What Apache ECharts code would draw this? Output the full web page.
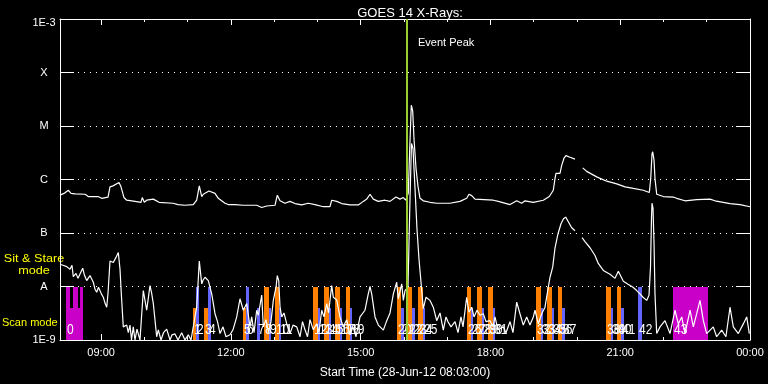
<!DOCTYPE html>
<html><head><meta charset="utf-8">
<script src="https://cdn.jsdelivr.net/npm/echarts@6/dist/echarts.min.js"></script>
<style>html,body{margin:0;padding:0;background:#000}#c{width:768px;height:384px}</style>
</head><body><div id="c"></div>
<script>
// ---- data (time in hours of 28-Jun-2012, flux in W/m^2) ----
const longTime = [8.050,8.142,8.242,8.304,8.397,8.628,8.704,8.928,9.014,9.160,
9.206,9.275,9.321,9.414,9.460,9.529,9.592,9.784,9.922,9.952,
9.999,10.054,10.091,10.207,10.339,10.662,10.778,10.939,11.131,11.210,
11.270,11.326,11.363,11.494,11.633,11.709,11.864,11.940,12.095,12.287,
12.597,12.713,12.828,13.020,13.073,13.136,13.251,13.367,13.482,13.637,
13.790,13.945,14.137,14.291,14.331,14.446,14.562,14.754,14.946,15.061,
15.140,15.216,15.292,15.408,15.563,15.678,15.817,15.909,15.986,16.041,
16.101,16.134,16.171,16.203,16.233,16.280,16.326,16.372,16.448,16.603,
16.758,17.065,17.296,17.451,17.504,17.567,17.643,18.066,18.182,18.452,
18.607,18.723,18.799,18.991,19.222,19.361,19.453,19.492,19.515,19.608,
19.647,19.700,19.746,19.839,19.955,20.036,20.133,20.225,20.456,20.688,
20.919,20.956,21.111,21.303,21.534,21.673,21.705,21.735,21.751,21.781,
21.804,21.843,21.996,22.227,22.305,22.497,22.768,23.075,23.191,23.538,
23.769,23.808,24.000];
const longFlux = [5.1e-7,5.5e-7,6.3e-7,5.5e-7,5.4e-7,5.3e-7,4.8e-7,4.8e-7,4.45e-7,4.7e-7,
7.3e-7,7.6e-7,7.0e-7,8.8e-7,7.3e-7,4.6e-7,4.1e-7,3.9e-7,3.75e-7,4.6e-7,
3.75e-7,4.1e-7,4.3e-7,4.3e-7,3.75e-7,3.6e-7,3.4e-7,3.3e-7,3.4e-7,4.1e-7,
7.6e-7,4.8e-7,5.3e-7,6.1e-7,5.5e-7,4.45e-7,3.6e-7,3.4e-7,3.4e-7,3.3e-7,
3.3e-7,3.0e-7,3.2e-7,3.3e-7,5.1e-7,4.0e-7,3.6e-7,3.9e-7,3.55e-7,3.35e-7,
3.6e-7,3.4e-7,3.1e-7,3.1e-7,4.1e-7,3.9e-7,3.55e-7,3.35e-7,3.35e-7,3.9e-7,
4.3e-7,5.3e-7,4.3e-7,3.9e-7,4.1e-7,3.9e-7,4.7e-7,4.3e-7,4.6e-7,4.1e-7,
5.5e-7,3.75e-6,2.45e-5,1.9e-5,5.7e-6,1.6e-6,7.4e-7,4.45e-7,4.0e-7,3.75e-7,
3.6e-7,3.6e-7,3.9e-7,4.45e-7,5.3e-7,5.0e-7,4.3e-7,4.1e-7,3.9e-7,3.4e-7,
4.0e-7,3.6e-7,4.0e-7,3.75e-7,4.1e-7,4.8e-7,6.3e-7,1.04e-6,1.3e-6,1.3e-6,
1.84e-6,2.5e-6,2.8e-6,2.6e-6,2.4e-6,null,1.65e-6,1.42e-6,1.12e-6,9.3e-7,
8.3e-7,8.8e-7,7.3e-7,6.8e-7,6.3e-7,5.7e-7,1.04e-6,3.0e-6,3.3e-6,2.3e-6,
1.04e-6,5.3e-7,4.8e-7,4.7e-7,4.45e-7,4.0e-7,4.2e-7,4.3e-7,4.0e-7,3.55e-7,
3.4e-7,3.3e-7,3.1e-7];

const shortTime = [8.050,8.119,8.205,8.281,8.327,8.357,8.420,8.466,8.512,8.575,
8.616,8.667,8.743,8.820,8.859,8.898,8.940,8.975,9.009,9.051,
9.090,9.130,9.160,9.206,9.282,9.344,9.398,9.437,9.472,9.513,
9.592,9.629,9.668,9.703,9.744,9.784,9.830,9.899,9.976,10.054,
10.130,10.165,10.207,10.285,10.322,10.385,10.442,10.516,10.593,10.639,
10.708,10.778,10.863,10.939,11.016,11.078,11.131,11.210,11.270,11.326,
11.356,11.402,11.478,11.557,11.633,11.691,11.749,11.818,11.887,11.980,
12.049,12.135,12.211,12.287,12.366,12.442,12.481,12.535,12.597,12.634,
12.713,12.750,12.812,12.870,12.927,12.981,13.043,13.073,13.106,13.136,
13.175,13.228,13.291,13.367,13.436,13.522,13.598,13.656,13.714,13.772,
13.829,13.905,13.984,14.037,14.099,14.153,14.215,14.257,14.331,14.368,
14.446,14.522,14.599,14.677,14.754,14.823,14.892,14.985,15.100,15.170,
15.216,15.255,15.332,15.408,15.524,15.603,15.679,15.756,15.794,15.833,
15.870,15.949,15.986,16.025,16.094,16.141,16.175,16.210,16.256,16.303,
16.349,16.395,16.448,16.511,16.603,16.679,16.758,16.834,16.910,16.973,
17.019,17.088,17.181,17.250,17.319,17.366,17.451,17.504,17.567,17.620,
17.689,17.759,17.835,17.897,17.990,18.059,18.105,18.175,18.297,18.359,
18.452,18.521,18.607,18.683,18.759,18.838,18.914,18.991,19.030,19.106,
19.185,19.261,19.338,19.377,19.439,19.493,19.562,19.631,19.689,19.740,
19.800,19.879,19.955,20.036,20.117,20.186,20.302,20.417,20.493,20.609,
20.764,20.879,20.956,21.072,21.180,21.296,21.381,21.457,21.527,21.612,
21.666,21.700,21.723,21.735,21.758,21.781,21.804,21.843,21.920,22.035,
22.151,22.267,22.343,22.422,22.498,22.614,22.690,22.768,22.844,22.921,
22.999,23.151,23.229,23.345,23.444,23.538,23.614,23.730,23.845,23.924,
23.984];
const shortFlux = [2.6e-8,2.5e-8,2.35e-8,2.1e-8,2.5e-8,1.53e-8,1.76e-8,1.42e-8,1.38e-8,2.2e-8,
1.62e-8,1.29e-8,1.6e-8,1.2e-8,8.9e-9,7.8e-9,9.7e-9,9.7e-9,7.2e-9,6.3e-9,
4.9e-9,4.1e-9,7.5e-9,3.0e-8,2.8e-8,3.5e-8,4.3e-8,2.1e-8,6.3e-9,1.76e-9,
1.9e-9,1.37e-9,1.9e-9,1e-9,1.76e-9,1e-9,1.6e-9,1e-9,8.4e-9,3.6e-9,
1.04e-8,7.8e-9,4.8e-9,1.15e-9,1.55e-9,1e-9,1.37e-9,1.6e-9,1e-9,1.25e-9,
1.3e-9,1e-9,1.37e-9,1e-9,1.25e-9,1e-9,1.76e-9,4.1e-9,3.0e-8,1.12e-8,
1.31e-8,1.49e-8,1.29e-8,7.3e-9,3.1e-9,2.2e-9,1.32e-9,1.76e-9,1.15e-9,1.25e-9,
1.55e-9,2.7e-9,5.9e-9,3.6e-9,4.8e-9,1.76e-9,2.7e-9,1.37e-9,3.6e-9,2.9e-9,
6.9e-9,1.76e-9,2.4e-9,1.37e-9,2.2e-9,5.5e-9,9.7e-9,1.6e-8,1.29e-8,4.1e-9,
2.7e-9,3.2e-9,2.0e-9,1.32e-9,1.9e-9,1.76e-9,1.15e-9,2.2e-9,1.55e-9,1.15e-9,
2.4e-9,1.55e-9,2.0e-9,1.37e-9,3.6e-9,2.7e-9,4.8e-9,3.2e-9,1.04e-8,6.3e-9,
5.6e-9,2.7e-9,1.76e-9,2.4e-9,1.25e-9,1.76e-9,1.15e-9,2.7e-9,3.6e-9,6.9e-9,
1.0e-8,7.3e-9,2.7e-9,1.9e-9,1.53e-9,2.3e-9,3.2e-9,7.3e-9,7.8e-9,1.2e-8,
5.9e-9,1.12e-8,5.5e-9,8.4e-9,9.7e-9,4.5e-7,4.7e-6,3.8e-6,6.9e-7,1.15e-7,
3.2e-8,1.2e-8,3.85e-9,6.3e-9,5.5e-9,4.1e-9,2.3e-9,3.2e-9,1.53e-9,2.7e-9,
2.2e-9,1.76e-9,2.2e-9,1.37e-9,2.7e-9,1.76e-9,6.3e-9,3.3e-9,4.1e-9,2.7e-9,
3.6e-9,2.9e-9,3.1e-9,2.2e-9,2.3e-9,1.76e-9,2.7e-9,1.55e-9,1.76e-9,1.37e-9,
2.2e-9,1.37e-9,5.1e-9,3.1e-9,1.9e-9,2.7e-9,1.9e-9,2.7e-9,3.6e-9,2.0e-9,
3.1e-9,4.1e-9,9.7e-9,1.49e-8,2.3e-8,5.3e-8,9.7e-8,1.49e-7,1.84e-7,1.98e-7,
1.62e-7,1.25e-7,1.1e-7,null,8.2e-8,6.9e-8,5.3e-8,3.8e-8,2.7e-8,2.0e-8,
1.69e-8,1.42e-8,1.92e-8,1.25e-8,1.1e-8,9.7e-9,8.4e-9,7.3e-9,6.3e-9,5.5e-9,
6.9e-9,2.3e-8,1.9e-7,3.6e-7,2.9e-7,6.6e-8,7.2e-9,1.32e-9,1.76e-9,2.3e-9,
1.32e-9,3.6e-9,2.0e-9,2.7e-9,1.32e-9,3.6e-9,1.76e-9,3.1e-9,5.5e-9,2.3e-9,
1.32e-9,1.76e-9,1.15e-9,1.53e-9,1.15e-9,4.1e-9,1.76e-9,1.32e-9,2.0e-9,2.7e-9,
1.32e-9];

// observation bars (mode: stare = Sit & Stare, scanA / scanB = scan mode)
const barStart = [8.189,8.281,8.339,8.459,8.512,
11.131,11.194,11.379,11.460,12.287,12.350,12.597,
12.766,12.874,13.027,13.119,13.898,14.007,14.153,14.261,14.414,14.523,14.661,14.754,
15.833,15.944,16.094,16.194,16.326,16.434,17.465,17.551,17.696,17.805,17.944,18.052,
19.053,19.162,19.315,19.416,19.569,19.654,20.671,20.780,20.933,21.011,
21.404,22.213];
const barEnd = [8.281,8.339,8.459,8.512,8.582,
11.194,11.270,11.460,11.534,12.350,12.426,12.673,
12.874,12.921,13.119,13.166,14.007,14.060,14.261,14.308,14.523,14.576,14.754,14.807,
15.944,16.002,16.194,16.249,16.434,16.487,17.551,17.597,17.805,17.851,18.052,18.105,
19.162,19.222,19.416,19.469,19.654,19.717,20.780,20.826,21.011,21.087,
21.497,23.022];
const barTop = [1e-8,4e-9,1e-8,4e-9,1e-8,
4e-9,1e-8,4e-9,1e-8,4e-9,1e-8,4e-9,
1e-8,4e-9,1e-8,4e-9,1e-8,4e-9,1e-8,4e-9,1e-8,4e-9,1e-8,4e-9,
1e-8,4e-9,1e-8,4e-9,1e-8,4e-9,1e-8,4e-9,1e-8,4e-9,1e-8,4e-9,
1e-8,4e-9,1e-8,4e-9,1e-8,4e-9,1e-8,4e-9,1e-8,4e-9,
1e-8,1e-8];
const barKind = ['stare','stare','stare','stare','stare',
'scanA','scanB','scanA','scanB','scanA','scanB','scanB',
'scanA','scanB','scanA','scanB','scanA','scanB','scanA','scanB','scanA','scanB','scanA','scanB',
'scanA','scanB','scanA','scanB','scanA','scanB','scanA','scanB','scanA','scanB','scanA','scanB',
'scanA','scanB','scanA','scanB','scanA','scanB','scanA','scanB','scanA','scanB',
'scanB','stare'];

const obsLabel = ['0','1','2','3','4','5','6','7','8','9','10','11','12','13','14','15','16','17','18','19','20','21',
'22','23','24','25','26','27','28','29','30','31','32','33','34','35','36','37','38','39','40','41','42','43'];
const obsTime = [8.189,11.131,11.194,11.379,11.460,12.287,12.350,12.597,12.766,12.874,13.027,13.119,13.898,14.007,
14.153,14.261,14.414,14.523,14.661,14.754,15.833,15.944,16.094,16.194,16.326,16.434,17.465,17.551,17.696,17.805,
17.944,18.052,19.053,19.162,19.315,19.416,19.569,19.654,20.671,20.780,20.933,21.011,21.404,22.213];

const yLabels = {'-3':'1E-3','-4':'X','-5':'M','-6':'C','-7':'B','-8':'A','-9':'1E-9'};
const xMajor = [9,12,15,18,21,24];
const xMinor = [9,10,11,12,13,14,15,16,17,18,19,20,21,22,23];
const tStart = 8.05, tEnd = 24;
const eventPeak = 16.069;
const titleText = 'GOES 14 X-Rays:';
const xName = 'Start Time (28-Jun-12 08:03:00)';

// ---- styles ----
const FONT = 'Liberation Sans';
const kindColor = {stare:'#c800c8', scanA:'#ff8000', scanB:'#6464ff'};
const WHITE = '#ffffff';

const chart = echarts.init(document.getElementById('c'));
const fmtHour = v => { const h = Math.round(v) % 24; return (h < 10 ? '0' : '') + h + ':00'; };

function xAx(pos, ticks, len, labels, extra) {
  return Object.assign({
    type:'value', position:pos, min:tStart, max:tEnd,
    axisLine:{show:true, lineStyle:{color:WHITE, width:1}},
    axisTick:{show:true, inside:true, length:len, customValues:ticks, lineStyle:{color:WHITE}},
    axisLabel:labels ? {show:true, customValues:xMajor, formatter:fmtHour, color:WHITE, fontFamily:FONT, fontSize:11, margin:7}
                     : {show:false},
    splitLine:{show:false}
  }, extra || {});
}
function yAx(pos, labels) {
  return {
    type:'log', logBase:10, min:1e-9, max:1e-3, splitNumber:6, position:pos,
    axisLine:{show:true, lineStyle:{color:WHITE, width:1}},
    axisTick:{show:true, inside:true, length:14, lineStyle:{color:WHITE}},
    axisLabel:labels ? {show:true, color:WHITE, fontFamily:FONT, fontSize:11, margin:16, align:'center',
       formatter: v => { const k = Math.round(Math.log10(v)); const s = yLabels[String(k)] || '';
                         return k === -3 ? '{top|' + s + '}' : s; },
       rich:{top:{color:WHITE, fontFamily:FONT, fontSize:11, padding:[8,0,0,0]}}} : {show:false},
    splitLine: labels ? {show:true, lineStyle:{color:WHITE, width:1, type:[1,5]}} : {show:false}
  };
}

const option = {
  backgroundColor:'#000',
  animation:false,
  title:{text:titleText, left:405, top:2, textAlign:'center',
    textStyle:{color:WHITE, fontFamily:FONT, fontSize:13, fontWeight:'normal'}},
  grid:{left:60, right:18, top:19, bottom:41, containLabel:false},
  xAxis:[
    xAx('bottom', xMajor, 6, true, {name:xName, nameLocation:'middle', nameGap:27,
      nameTextStyle:{color:WHITE, fontFamily:FONT, fontSize:12}}),
    xAx('bottom', xMinor, 3, false, {axisLine:{show:false}}),
    xAx('top', xMajor, 6, false),
    xAx('top', xMinor, 3, false, {axisLine:{show:false}})
  ],
  yAxis:[ yAx('left', true), yAx('right', false) ],
  series:[
    {
      type:'custom', name:'observations', xAxisIndex:0, yAxisIndex:0, z:1,
      data: barStart.map((s,i) => [s, barEnd[i], barTop[i]]),
      encode:{x:[0,1], y:2},
      renderItem:(params, api) => {
        const a = api.coord([api.value(0), api.value(2)]);
        const b = api.coord([api.value(1), 1e-9]);
        const x0 = Math.round(a[0]), x1 = Math.round(b[0]);
        const y0 = Math.round(a[1]), y1 = Math.round(b[1]);
        return {type:'rect', shape:{x:x0, y:y0, width:Math.max(1,x1-x0), height:y1-y0},
          style:{fill:kindColor[barKind[params.dataIndex]]}};
      }
    },
    {
      type:'custom', name:'obs labels', xAxisIndex:0, yAxisIndex:0, z:2,
      data: obsTime.map(t => [t, 1e-9]),
      encode:{x:0, y:1},
      renderItem:(params, api) => {
        const p = api.coord([api.value(0), api.value(1)]);
        return {type:'text', x:Math.round(p[0])+1, y:Math.round(p[1])-10, scaleX:0.8,
          style:{text:obsLabel[params.dataIndex], fill:WHITE, fontFamily:FONT, fontSize:15,
            align:'left', verticalAlign:'middle'}};
      }
    },
    {
      type:'line', name:'0.5-4.0 A', xAxisIndex:0, yAxisIndex:0, z:3,
      data: shortTime.map((t,i) => [t, shortFlux[i] === null ? '-' : shortFlux[i]]),
      showSymbol:false, symbol:'none', connectNulls:false,
      lineStyle:{color:WHITE, width:1.2}
    },
    {
      type:'line', name:'1.0-8.0 A', xAxisIndex:0, yAxisIndex:0, z:3,
      data: longTime.map((t,i) => [t, longFlux[i] === null ? '-' : longFlux[i]]),
      showSymbol:false, symbol:'none', connectNulls:false,
      lineStyle:{color:WHITE, width:1.2}
    },
    {
      type:'line', name:'event', xAxisIndex:0, yAxisIndex:0, z:5, data:[],
      markLine:{symbol:'none', silent:true, label:{show:false},
        lineStyle:{color:'#9acd32', width:2, type:'solid'},
        data:[{xAxis:eventPeak}]}
    }
  ],
  graphic:[
    {type:'text', x:34, y:259, scaleX:1.15,
      style:{text:'Sit & Stare', fill:'#ffff00', fontFamily:FONT, fontSize:11, align:'center', verticalAlign:'middle'}},
    {type:'text', x:34, y:271, scaleX:1.15,
      style:{text:'mode', fill:'#ffff00', fontFamily:FONT, fontSize:11, align:'center', verticalAlign:'middle'}},
    {type:'text', x:2, y:323,
      style:{text:'Scan mode', fill:'#ffff00', fontFamily:FONT, fontSize:11, align:'left', verticalAlign:'middle'}}
  ]
};
chart.setOption(option);
const px = chart.convertToPixel({xAxisIndex:0}, eventPeak);
const py = chart.convertToPixel({yAxisIndex:0}, 1e-3);
chart.setOption({graphic:[{type:'text', id:'ev', x:Math.round(px)+11, y:py+24,
  style:{text:'Event Peak', fill:WHITE, fontFamily:FONT, fontSize:11, align:'left', verticalAlign:'middle'}}]});
</script>
</body></html>
